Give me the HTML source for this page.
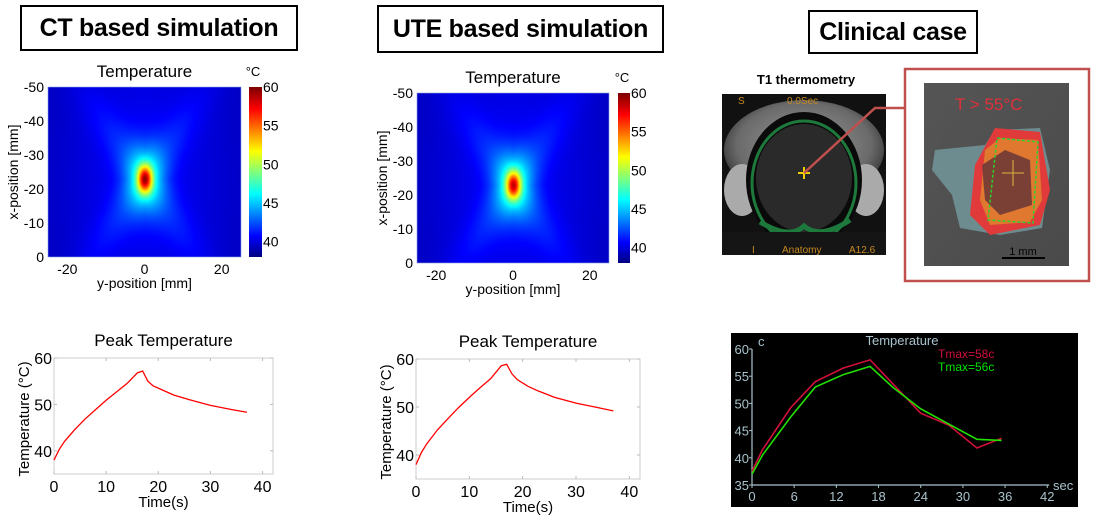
<!DOCTYPE html>
<html><head><meta charset="utf-8">
<style>
html,body{margin:0;padding:0;background:#fff;}
body{width:1094px;height:518px;position:relative;overflow:hidden;font-family:"Liberation Sans",sans-serif;}
.box{position:absolute;border:2px solid #000;font-weight:bold;font-size:25px;text-align:center;box-sizing:border-box;background:#fff;letter-spacing:-0.3px;}
svg{position:absolute;left:0;top:0;}
canvas{position:absolute;}
</style></head>
<body>
<div class="box" style="left:20px;top:5px;width:278px;height:46px;line-height:42px;">CT based simulation</div>
<div class="box" style="left:377px;top:5px;width:287px;height:48px;line-height:44px;">UTE based simulation</div>
<div class="box" style="left:808px;top:10px;width:170px;height:44px;line-height:40px;">Clinical case</div>

<canvas id="hm1" width="193" height="170" style="left:48px;top:87px;"></canvas>
<canvas id="hm2" width="192" height="170" style="left:417px;top:93px;"></canvas>
<canvas id="cb1" width="13" height="170" style="left:249px;top:87px;"></canvas>
<canvas id="cb2" width="12" height="170" style="left:618px;top:93px;"></canvas>

<svg id="main" width="1094" height="518" xmlns="http://www.w3.org/2000/svg"></svg>

<script>
// ---- data ----
const heatCenterX = [-23, -23];       // x-position of hot spot (mm)
const heatPeak = [60, 59];             // peak temperature
const peakTime1 = [0,1,2,4,6,8,10,12,14,16,17,18,19,21,23,26,30,34,37];
const peakTemp1 = [38,40.3,42,44.6,46.9,48.9,50.9,52.7,54.5,56.8,57.2,55.0,54.0,53.0,52.0,51.0,49.8,48.9,48.3];
const peakTime2 = [0,1,2,4,6,8,10,12,14,16,17,18,19,21,23,26,30,34,37];
const peakTemp2 = [38,40.5,42.3,45.2,47.6,49.9,52.0,54.0,55.9,58.6,58.9,56.9,55.7,54.3,53.3,52.0,50.8,49.9,49.2];
const clinTime = [0,1.5,5.5,9,13,16.8,24,28,32,35.5];
const clinRed = [37.5,41.5,49.2,54,56.5,58,48.2,46,41.8,43.6];
const clinTimeG = [0,1.5,5.5,9,13,16.8,20,24,32,35.5];
const clinGreen = [37,40.5,47.5,53,55.3,56.8,53,49,43.4,43.2];
const yTicksPeak = [40,50,60];
const xTicksPeak = [0,10,20,30,40];
const clinYTicks = [35,40,45,50,55,60];
const clinXTicks = [0,6,12,18,24,30,36,42];
const hmYTicks = [-50,-40,-30,-20,-10,0];
const hmXTicks = [-20,0,20];
const cbTicks = [40,45,50,55,60];

function jet(v){
  const r=Math.min(Math.max(Math.min(4*v-1.5,-4*v+4.5),0),1);
  const g=Math.min(Math.max(Math.min(4*v-0.5,-4*v+3.5),0),1);
  const b=Math.min(Math.max(Math.min(4*v+0.5,-4*v+2.5),0),1);
  return [r*255,g*255,b*255];
}
const TMIN=38, TMAX=60;
function drawHeat(id, idx){
  const c=document.getElementById(id), ctx=c.getContext('2d');
  const W=c.width,H=c.height, img=ctx.createImageData(W,H);
  for(let j=0;j<H;j++)for(let i=0;i<W;i++){
    const y=-25+50*i/W, x=-50+50*j/H;
    const dx=x-heatCenterX[idx], dy=y;
    const core=Math.exp(-(dy*dy/(2*1.3*1.3)+dx*dx/(2*2.8*2.8)));
    const mid=Math.exp(-(dy*dy/(2*3.5*3.5)+dx*dx/(2*7*7)));
    const xs=Math.exp(-Math.pow(Math.abs(dy)-Math.abs(dx)*0.6,2)/(2*16))*Math.exp(-(dx*dx+dy*dy)/(2*400));
    const far=Math.exp(-(dy*dy)/(2*14*14))*Math.exp(-(dx*dx)/(2*30*30));
    const T=39.3+(heatPeak[idx]-48)*core+5.5*mid+1.6*xs+1.3*far;
    const col=jet((Math.min(T,TMAX)-TMIN)/(TMAX-TMIN));
    const k=(j*W+i)*4; img.data[k]=col[0];img.data[k+1]=col[1];img.data[k+2]=col[2];img.data[k+3]=255;
  }
  ctx.putImageData(img,0,0);
}
function drawCb(id){
  const c=document.getElementById(id), ctx=c.getContext('2d');
  for(let j=0;j<c.height;j++){const col=jet(1-j/c.height);ctx.fillStyle=`rgb(${col[0]|0},${col[1]|0},${col[2]|0})`;ctx.fillRect(0,j,c.width,1);}
}
drawHeat('hm1',0);drawHeat('hm2',1);drawCb('cb1');drawCb('cb2');

const svg=document.getElementById('main');
const NS='http://www.w3.org/2000/svg';
function mk(tag,attrs,parent){const e=document.createElementNS(NS,tag);for(const k in attrs)e.setAttribute(k,attrs[k]);(parent||svg).appendChild(e);return e;}
function txt(s,x,y,size,anchor,fill,extra){const t=mk('text',Object.assign({x:x,y:y,'font-size':size,'text-anchor':anchor||'middle',fill:fill||'#000','font-family':'"Liberation Sans",sans-serif'},extra||{}));t.textContent=s;return t;}

function heatAxes(L,T,W,H,cbL,cbW,name){
  const g=mk('g',{});
  
  
  mk('rect',{x:L,y:T,width:W,height:H,fill:'none',stroke:'#8aa0e0','stroke-width':0.6},g);
  const t=txt('Temperature',L+W/2,T-10,17,'middle','#000');
  
  
  const u=txt('°C',cbL+4,T-11,13,'middle');
  
  
  hmYTicks.forEach(v=>{const y=T+(v+50)/50*H;const e=txt(String(v),L-4,y+5,14,'end');});
  hmXTicks.forEach(v=>{const x=L+(v+25)/50*W;const e=txt(String(v),x,T+H+17,14,'middle');});
  const xl=txt('y-position [mm]',L+W/2,T+H+31,14,'middle');
  
  
  const yl=txt('x-position [mm]',0,0,14,'middle','#000',{transform:`translate(${L-30},${T+H/2}) rotate(-90)`});
  
  
  cbTicks.forEach(v=>{const y=T+H-(v-TMIN)/(TMAX-TMIN)*H;const e=txt(String(v),cbL+cbW+1,y+5,14,'start');});
}
heatAxes(48,87,193,170,249,13,'ct');
heatAxes(417,93,192,170,618,12,'ute');

function peakChart(L,T,R,B,times,temps,name){
  const sx=v=>L+v/42*(R-L), sy=v=>B-(v-35)/25*(B-T);
  const g=mk('g',{});
  
  
  mk('rect',{x:L,y:T,width:R-L,height:B-T,fill:'none',stroke:'#ccc','stroke-width':1},g);
  yTicksPeak.forEach(v=>{mk('line',{x1:L,x2:L+3,y1:sy(v),y2:sy(v),stroke:'#bbb'},g);mk('line',{x1:R,x2:R-3,y1:sy(v),y2:sy(v),stroke:'#bbb'},g);const e=txt(String(v),L-2,sy(v)+6,16,'end');});
  xTicksPeak.forEach(v=>{mk('line',{x1:sx(v),x2:sx(v),y1:B,y2:B-3,stroke:'#bbb'},g);mk('line',{x1:sx(v),x2:sx(v),y1:T,y2:T+3,stroke:'#bbb'},g);const e=txt(String(v),sx(v),B+18,16,'middle');});
  const t=txt('Peak Temperature',(L+R)/2,T-12,17,'middle');
  
  
  const xl=txt('Time(s)',(L+R)/2,B+33,15,'middle');
  
  
  const yl=txt('Temperature (°C)',0,0,15,'middle','#000',{transform:`translate(${L-25},${(T+B)/2+3}) rotate(-90)`});
  
  
  const p=mk('polyline',{points:times.map((t,i)=>sx(t)+','+sy(temps[i])).join(' '),fill:'none',stroke:'#f00','stroke-width':1.3},g);
  
  
}
peakChart(54,358,273,474,peakTime1,peakTemp1,'ct');
peakChart(416,359,640,479,peakTime2,peakTemp2,'ute');

(function(){
  const g=mk('g',{});
  
  
  mk('rect',{x:731,y:333,width:347,height:174,fill:'#000'},g);
  const L=752,B=485,sx=v=>L+v*7.03,sy=v=>B-(v-35)*5.44;
  const ac='#a9c3cc';
  mk('line',{x1:L,x2:L,y1:sy(60),y2:B,stroke:ac,'stroke-width':1.2},g);
  mk('line',{x1:L,x2:sx(42)+2,y1:B,y2:B,stroke:ac,'stroke-width':1.2},g);
  clinYTicks.forEach(v=>{mk('line',{x1:L-3,x2:L,y1:sy(v),y2:sy(v),stroke:ac},g);const e=txt(String(v),L-3,sy(v)+5,13,'end',ac);});
  clinXTicks.forEach(v=>{mk('line',{x1:sx(v),x2:sx(v),y1:B,y2:B+3,stroke:ac},g);const e=txt(String(v),sx(v),B+16,13,'middle',ac);});
  txt('c',758,346,13,'start',ac);
  txt('sec',1053,490,13,'start',ac);
  const tt=txt('Temperature',902,345,13,'middle',ac);
  
  
  const l1=txt('Tmax=58c',938,358,12,'start','#d0103a');
  
  
  const l2=txt('Tmax=56c',938,371,12,'start','#00e000');
  
  
  const r=mk('polyline',{points:clinTime.map((t,i)=>sx(t)+','+sy(clinRed[i])).join(' '),fill:'none',stroke:'#d0103a','stroke-width':1.6},g);
  
  
  const gr=mk('polyline',{points:clinTimeG.map((t,i)=>sx(t)+','+sy(clinGreen[i])).join(' '),fill:'none',stroke:'#22e000','stroke-width':1.6},g);
  
  
})();
</script>

<svg width="1094" height="518" style="pointer-events:none" xmlns="http://www.w3.org/2000/svg">
  <defs>
    <radialGradient id="brainBg" cx="0.5" cy="0.45" r="0.6">
      <stop offset="0" stop-color="#9a9a9a"/><stop offset="0.7" stop-color="#6a6a6a"/><stop offset="1" stop-color="#222"/>
    </radialGradient>
    <linearGradient id="greyBg" x1="0" y1="0" x2="1" y2="1"><stop offset="0" stop-color="#555"/><stop offset="1" stop-color="#4a4a4a"/></linearGradient>
  </defs>
  <text x="806" y="84" font-size="13" font-weight="bold" text-anchor="middle" font-family="Liberation Sans, sans-serif">T1 thermometry</text>
  <g>
    <rect x="722" y="94" width="164" height="161" fill="#111"/>
    <ellipse cx="804" cy="150" rx="80" ry="50" fill="url(#brainBg)"/>
    <ellipse cx="742" cy="190" rx="18" ry="26" fill="#aaa"/>
    <ellipse cx="866" cy="190" rx="18" ry="26" fill="#aaa"/>
    <ellipse cx="804" cy="180" rx="58" ry="68" fill="#0a0a0a"/>
    <ellipse cx="804" cy="183" rx="52" ry="62" fill="none" stroke="#1e7a3c" stroke-width="3"/>
    <ellipse cx="804" cy="178" rx="48" ry="54" fill="#2a2a2a"/>
    <path d="M760 222 Q790 240 804 226 Q820 240 850 220" stroke="#1e7a3c" stroke-width="5" fill="none"/>
    <rect x="722" y="232" width="164" height="23" fill="#151515"/>
    <text x="738" y="104" font-size="10" fill="#c88a20" font-family="Liberation Sans, sans-serif">S</text>
    <text x="787" y="104" font-size="10" fill="#c88a20" font-family="Liberation Sans, sans-serif">0.0Sec</text>
    <text x="752" y="253" font-size="10" fill="#c88a20" font-family="Liberation Sans, sans-serif">I</text>
    <text x="782" y="253" font-size="10" fill="#c88a20" font-family="Liberation Sans, sans-serif">Anatomy</text>
    <text x="849" y="253" font-size="10" fill="#c88a20" font-family="Liberation Sans, sans-serif">A12.6</text>
    <path d="M798 173 H810 M804 167 V179" stroke="#f0d000" stroke-width="2"/>
  </g>
  <polyline points="804,173 875,108 905,108" fill="none" stroke="#c0504d" stroke-width="2.5"/>
  <rect x="905" y="69" width="184" height="212" fill="#fff" stroke="#c0504d" stroke-width="2.5"/>
  <g>
    <rect x="924" y="83" width="145" height="183" fill="url(#greyBg)"/>
    <path d="M935 150 L985 145 L995 130 L1040 128 L1050 170 L1042 228 L1000 235 L960 228 L952 195 L932 170 Z" fill="#6d8c90"/>
    <path d="M975 165 L995 128 L1040 132 L1050 190 L1040 225 L990 235 L970 215 Z" fill="#e03a3a"/>
    <path d="M985 150 L1000 138 L1038 140 L1042 200 L1030 222 L990 225 L980 200 Z" fill="#e07830"/>
    <path d="M982 165 L1005 150 L1030 160 L1032 205 L1000 215 L985 200 Z" fill="#7a4035"/>
    <polygon points="997,138 1038,142 1033,223 988,220" fill="none" stroke="#2bd02b" stroke-width="1.5" stroke-dasharray="3,2"/>
    <path d="M1002 173 H1024 M1013 160 V186" stroke="#c8a040" stroke-width="1.3"/>
    <text x="955" y="110" font-size="17" fill="#e0303a" font-family="Liberation Sans, sans-serif">T &gt; 55°C</text>
    <text x="1023" y="255" font-size="11" fill="#000" text-anchor="middle" font-family="Liberation Sans, sans-serif">1 mm</text>
    <line x1="1002" y1="258" x2="1045" y2="258" stroke="#000" stroke-width="2"/>
  </g>
</svg>
</body></html>
